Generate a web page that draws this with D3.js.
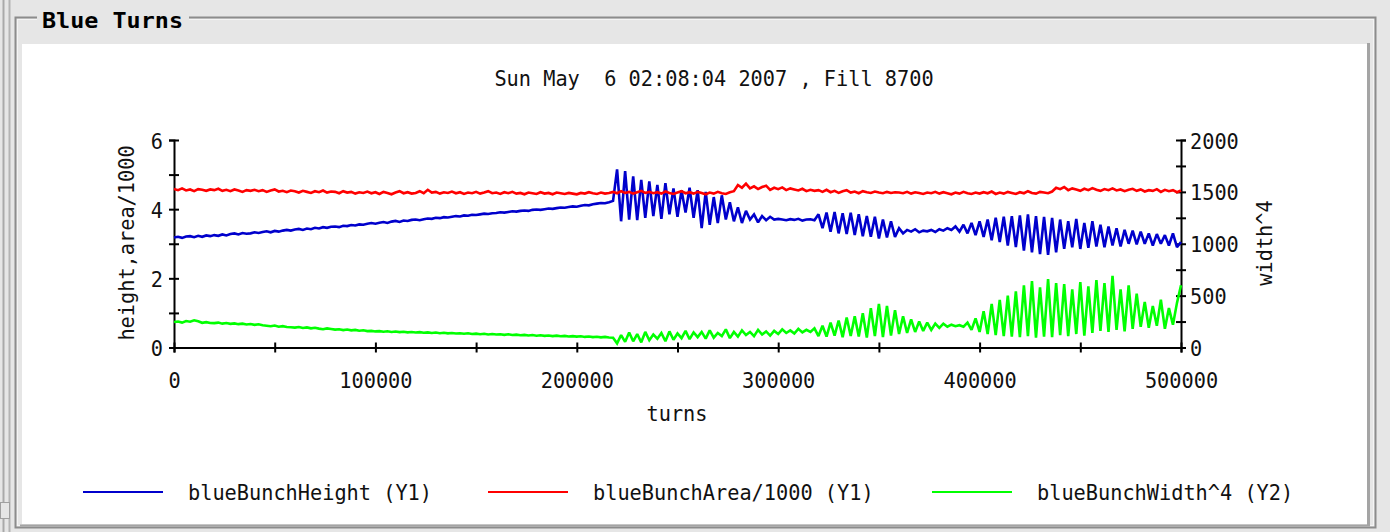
<!DOCTYPE html>
<html><head><meta charset="utf-8">
<script src="https://cdn.jsdelivr.net/npm/d3@7"></script>
<style>body{margin:0;background:#e6e6e6;overflow:hidden}svg{display:block}text{white-space:pre}</style>
</head><body><svg id="c" width="1390" height="532"></svg>
<script>
// ---------------- data ----------------
const panelTitle = "Blue Turns";
const chartTitle = "Sun May  6 02:08:04 2007 , Fill 8700";
const xLabel = "turns";
const y1Label = "height,area/1000";
const y2Label = "width^4";
const turnStep = 2000; // one sample every 2000 turns, 0..500000
const seriesNames = ["blueBunchHeight (Y1)", "blueBunchArea/1000 (Y1)", "blueBunchWidth^4 (Y2)"];
const seriesColors = ["#0000cc", "#ff0000", "#00ff00"];
const xTicks = [0, 50000, 100000, 150000, 200000, 250000, 300000, 350000, 400000, 450000, 500000];
const xTickLabels = [0, 100000, 200000, 300000, 400000, 500000];
const y1Ticks = [0, 1, 2, 3, 4, 5, 6];
const y1TickLabels = [0, 2, 4, 6];
const y2Ticks = [0, 250, 500, 750, 1000, 1250, 1500, 1750, 2000];
const y2TickLabels = [0, 500, 1000, 1500, 2000];

const blueBunchHeight = [
3.18,3.20,3.17,3.21,3.22,3.19,3.23,3.20,3.24,3.22,
3.25,3.23,3.27,3.24,3.28,3.30,3.27,3.31,3.29,3.30,
3.33,3.31,3.34,3.36,3.33,3.37,3.35,3.38,3.40,3.38,
3.41,3.43,3.40,3.44,3.42,3.46,3.44,3.48,3.46,3.49,
3.50,3.48,3.52,3.51,3.54,3.53,3.56,3.55,3.58,3.60,
3.58,3.61,3.63,3.60,3.64,3.66,3.63,3.67,3.66,3.69,
3.70,3.68,3.71,3.73,3.72,3.75,3.74,3.77,3.76,3.78,
3.80,3.79,3.82,3.81,3.84,3.83,3.85,3.87,3.86,3.88,
3.89,3.91,3.90,3.92,3.94,3.93,3.95,3.96,3.95,3.98,
3.99,3.98,4.00,4.02,4.01,4.03,4.05,4.04,4.06,4.08,
4.07,4.10,4.12,4.11,4.14,4.16,4.18,4.17,4.20,4.24,
5.15,3.65,5.10,3.70,4.95,3.68,4.85,3.75,4.80,3.80,
4.70,3.72,4.75,3.85,4.60,3.78,4.55,3.90,4.62,3.75,
4.55,3.45,4.50,3.55,4.35,3.60,4.40,3.70,4.20,3.65,
4.05,3.60,3.95,3.70,3.85,3.62,3.80,3.68,3.78,3.70,
3.72,3.70,3.68,3.71,3.69,3.72,3.67,3.70,3.71,3.68,
3.85,3.45,3.90,3.35,3.92,3.30,3.88,3.28,3.90,3.25,
3.85,3.22,3.80,3.20,3.78,3.15,3.70,3.18,3.65,3.20,
3.45,3.30,3.40,3.35,3.42,3.33,3.38,3.36,3.40,3.34,
3.42,3.38,3.45,3.40,3.50,3.35,3.55,3.30,3.60,3.25,
3.65,3.20,3.70,3.10,3.75,3.05,3.78,2.95,3.80,2.90,
3.82,2.80,3.85,2.75,3.80,2.70,3.78,2.68,3.75,2.75,
3.70,2.85,3.65,2.90,3.72,2.85,3.60,2.88,3.65,2.92,
3.55,2.90,3.50,2.95,3.45,2.92,3.40,3.00,3.38,2.98,
3.35,3.00,3.30,2.95,3.28,3.00,3.25,2.95,3.30,2.90,
3.05];

const blueBunchArea = [
4.58,4.55,4.60,4.54,4.57,4.52,4.58,4.56,4.53,4.57,
4.55,4.59,4.53,4.56,4.52,4.57,4.54,4.50,4.55,4.53,
4.56,4.52,4.55,4.50,4.54,4.57,4.51,4.53,4.49,4.54,
4.52,4.48,4.53,4.50,4.47,4.52,4.49,4.54,4.48,4.51,
4.50,4.46,4.52,4.48,4.50,4.45,4.49,4.47,4.51,4.46,
4.49,4.44,4.50,4.47,4.43,4.48,4.52,4.46,4.49,4.45,
4.47,4.52,4.46,4.56,4.48,4.50,4.45,4.49,4.47,4.51,
4.46,4.49,4.44,4.48,4.46,4.50,4.45,4.48,4.52,4.46,
4.48,4.44,4.49,4.46,4.50,4.45,4.47,4.43,4.48,4.46,
4.44,4.49,4.45,4.47,4.43,4.48,4.46,4.44,4.47,4.45,
4.43,4.47,4.45,4.49,4.46,4.44,4.48,4.45,4.47,4.50,
4.46,4.52,4.47,4.50,4.45,4.49,4.53,4.47,4.50,4.46,
4.49,4.45,4.51,4.47,4.44,4.48,4.52,4.46,4.49,4.45,
4.50,4.47,4.43,4.48,4.45,4.50,4.46,4.44,4.49,4.52,
4.70,4.62,4.74,4.60,4.66,4.58,4.64,4.68,4.56,4.62,
4.58,4.63,4.55,4.60,4.57,4.54,4.59,4.52,4.56,4.53,
4.55,4.50,4.56,4.49,4.53,4.47,4.52,4.55,4.48,4.51,
4.46,4.52,4.49,4.47,4.51,4.48,4.46,4.50,4.47,4.49,
4.48,4.46,4.50,4.45,4.49,4.47,4.44,4.48,4.46,4.50,
4.45,4.49,4.46,4.43,4.48,4.45,4.50,4.46,4.44,4.48,
4.45,4.49,4.46,4.51,4.44,4.48,4.45,4.50,4.47,4.44,
4.49,4.46,4.52,4.47,4.45,4.50,4.48,4.46,4.51,4.62,
4.58,4.64,4.55,4.60,4.57,4.53,4.59,4.55,4.61,4.56,
4.53,4.58,4.55,4.60,4.54,4.57,4.52,4.56,4.59,4.53,
4.57,4.51,4.55,4.53,4.58,4.50,4.56,4.52,4.55,4.49,
4.54];

const blueBunchWidth4 = [
245,250,240,255,248,262,252,238,244,236,
235,240,230,236,228,232,225,230,222,226,
218,224,215,210,205,212,200,206,198,195,
192,198,188,194,185,190,182,176,184,178,
172,176,168,174,165,170,162,166,158,160,
155,158,152,156,150,154,148,152,146,150,
145,148,142,146,140,144,138,142,136,140,
135,138,132,137,130,134,128,133,126,130,
125,128,122,127,120,124,118,122,116,120,
114,118,112,116,110,114,108,112,106,110,
105,108,102,106,100,104,98,102,96,94,
40,120,55,145,60,130,50,150,70,125,
85,140,60,155,75,135,90,160,80,145,
100,150,85,165,95,140,110,175,90,150,
105,165,120,150,110,170,125,155,115,160,
130,175,140,165,135,180,145,170,150,185,
110,210,105,240,115,260,100,290,110,300,
105,330,95,380,110,420,100,400,115,360,
130,300,140,270,150,250,160,240,170,230,
190,230,200,220,205,215,200,240,170,280,
150,350,130,420,120,460,110,500,105,540,
100,600,110,640,95,580,105,660,100,620,
120,610,110,560,130,630,115,590,140,650,
160,620,150,690,170,560,155,600,180,520,
200,440,190,400,210,460,180,380,220,430,
600];

// ---------------- drawing ----------------
const W = 1390, H = 532;
const FONT = "'DejaVu Sans Mono','Liberation Mono',monospace";
const CH = 12.2; // character advance of the reference font
const svg = d3.select("#c");

function fit(sel, fs, ch) {
  sel.attr("font-family", FONT).attr("font-size", fs).attr("fill", "#111")
     .attr("xml:space", "preserve")
     .each(function () {
       const t = d3.select(this).text();
       if (t.length) d3.select(this).attr("textLength", t.length * (ch || CH)).attr("lengthAdjust", "spacingAndGlyphs");
     });
  return sel;
}

// frame / panel
svg.append("rect").attr("width", W).attr("height", H).attr("fill", "#e6e6e6");
svg.append("line").attr("x1", 3.5).attr("x2", 3.5).attr("y1", 0).attr("y2", H).attr("stroke", "#a9a9a9").attr("stroke-width", 2);
svg.append("line").attr("x1", 9.5).attr("x2", 9.5).attr("y1", 0).attr("y2", H).attr("stroke", "#b4b4b4").attr("stroke-width", 2);
svg.append("rect").attr("x", 0.5).attr("y", 502.5).attr("width", 9).attr("height", 16).attr("fill", "#e6e6e6").attr("stroke", "#a0a0a0");
svg.append("rect").attr("x", 15.5).attr("y", 17.5).attr("width", 1360).attr("height", 510)
   .attr("fill", "none").attr("stroke", "#8c8c8c").attr("stroke-width", 2);
svg.append("rect").attr("x", 17.5).attr("y", 19.5).attr("width", 1356).attr("height", 506)
   .attr("fill", "none").attr("stroke", "#f4f4f4").attr("stroke-width", 1);
svg.append("rect").attr("x", 22).attr("y", 44).attr("width", 1345).attr("height", 480).attr("fill", "#fff");
svg.append("line").attr("x1", 1368.5).attr("x2", 1368.5).attr("y1", 43).attr("y2", 526).attr("stroke", "#a4a4a4").attr("stroke-width", 3);
svg.append("line").attr("x1", 20).attr("x2", 1370).attr("y1", 525.5).attr("y2", 525.5).attr("stroke", "#a4a4a4").attr("stroke-width", 2);
svg.append("rect").attr("x", 37).attr("y", 5).attr("width", 152).attr("height", 28).attr("fill", "#e6e6e6");
fit(svg.append("text").attr("x", 42).attr("y", 28).attr("font-weight", "bold").text(panelTitle), 21, 14.1).attr("fill", "#000");

// scales
const x = d3.scaleLinear().domain([0, 500000]).range([174, 1181]);
const y1 = d3.scaleLinear().domain([0, 6]).range([347.5, 140]);
const y2 = d3.scaleLinear().domain([0, 2000]).range([347.5, 140]);

// chart title
fit(svg.append("text").attr("x", 714).attr("y", 86).attr("text-anchor", "middle").text(chartTitle), 21);

// axes
function styleAxis(g, orient) {
  g.select(".domain").attr("stroke", "#000").attr("stroke-width", 2);
  g.selectAll(".tick line").attr("stroke", "#000").attr("stroke-width", 2);
  if (orient === "x") g.selectAll(".tick line").attr("y1", -5).attr("y2", 5);
  else g.selectAll(".tick line").attr("x1", -5).attr("x2", 5);
}

const gx = svg.append("g").attr("transform", `translate(0,${y1(0)})`)
  .call(d3.axisBottom(x).tickValues(xTicks).tickSizeOuter(0).tickSize(5)
        .tickFormat(d => xTickLabels.includes(d) ? String(d) : ""));
styleAxis(gx, "x");
gx.selectAll(".tick text").attr("y", 40).attr("dy", null);
fit(gx.selectAll(".tick text"), 21);

const gy1 = svg.append("g").attr("transform", `translate(${x(0)},0)`)
  .call(d3.axisLeft(y1).tickValues(y1Ticks).tickSizeOuter(0).tickSize(5)
        .tickFormat(d => y1TickLabels.includes(d) ? String(d) : ""));
styleAxis(gy1, "y");
gy1.selectAll(".tick text").attr("x", -11).attr("dy", null).attr("y", 8).attr("text-anchor", "end");
fit(gy1.selectAll(".tick text"), 21);

const gy2 = svg.append("g").attr("transform", `translate(${x(500000)},0)`)
  .call(d3.axisRight(y2).tickValues(y2Ticks).tickSizeOuter(0).tickSize(5)
        .tickFormat(d => y2TickLabels.includes(d) ? String(d) : ""));
styleAxis(gy2, "y");
gy2.selectAll(".tick text").attr("x", 9).attr("dy", null).attr("y", 8).attr("text-anchor", "start");
fit(gy2.selectAll(".tick text"), 21);

// axis titles
fit(svg.append("text").attr("x", 677).attr("y", 421).attr("text-anchor", "middle").text(xLabel), 21);
fit(svg.append("text").attr("transform", "translate(134,243) rotate(-90)").attr("text-anchor", "middle").text(y1Label), 21);
fit(svg.append("text").attr("transform", "translate(1272,243) rotate(-90)").attr("text-anchor", "middle").text(y2Label), 21);

// series
const series = [
  { values: blueBunchHeight, scale: y1 },
  { values: blueBunchArea, scale: y1 },
  { values: blueBunchWidth4, scale: y2 }
];
series.forEach((s, k) => {
  const line = d3.line().curve(d3.curveLinear)
    .x((d, i) => x(i * turnStep)).y(d => s.scale(d));
  svg.append("path").attr("d", line(s.values)).attr("fill", "none")
     .attr("stroke", seriesColors[k]).attr("stroke-width", 2.6).attr("stroke-linejoin", "miter").attr("stroke-miterlimit", 2);
});

// legend
const legendX = [83, 488, 932];
seriesNames.forEach((name, k) => {
  svg.append("line").attr("x1", legendX[k]).attr("x2", legendX[k] + 80).attr("y1", 492).attr("y2", 492)
     .attr("stroke", seriesColors[k]).attr("stroke-width", 2);
  fit(svg.append("text").attr("x", legendX[k] + 105).attr("y", 500).text(name), 21);
});
</script>
</body></html>
